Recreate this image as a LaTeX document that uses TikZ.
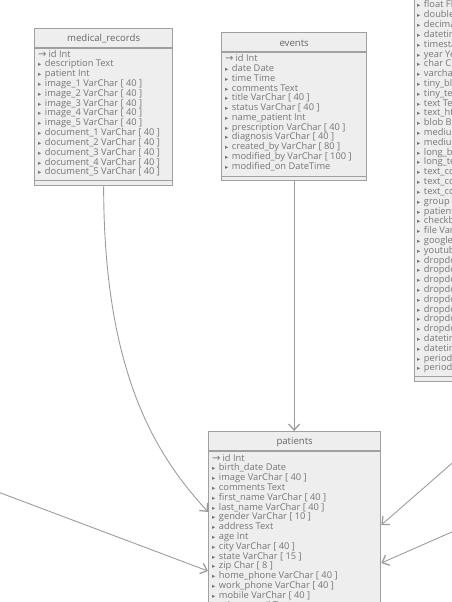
\documentclass[tikz,border=0pt]{standalone}
\usepackage{fontspec}
\setmainfont{Open Sans}
\newfontfamily\symf{DejaVu Sans}
\usetikzlibrary{arrows.meta,calc}
\definecolor{boxfill}{HTML}{EEEEEE}
\definecolor{boxline}{HTML}{A0A0A0}
\definecolor{rowtext}{HTML}{767676}
\definecolor{titletext}{HTML}{666666}
\definecolor{linkcol}{HTML}{9C9C9C}
\newcommand\pkmark{{\symf\fontsize{10}{8}\selectfont →}\hspace{2pt}}
\newcommand\fkmark{{\symf\fontsize{6.5}{6}\selectfont ▸}\hspace{3.5pt}}
\tikzset{
 tbl/.style={draw=boxline, fill=boxfill, line width=1.3pt, anchor=north west, inner sep=0pt},
 sepline/.style={draw=boxline, line width=1.3pt},
 ttl/.style={font=\fontsize{9.6}{9.6}\selectfont, text=titletext, inner sep=0pt},
 rowtxt/.style={font=\fontsize{9.3}{9.8}\selectfont, text=rowtext, anchor=base west, inner sep=0pt},
 link/.style={draw=linkcol, line width=0.9pt, -{Straight Barb[length=6pt,width=11pt,line width=1.3pt]}},
}
\begin{document}
\begin{tikzpicture}[x=1pt,y=-1pt]
\useasboundingbox (0,0) rectangle (452,602);
\clip (0,0) rectangle (452,602);

% ---------- medical_records ----------
\node[tbl, minimum width=138pt, minimum height=157pt] (mr) at (34,28) {};
\node[ttl] (mr-title) at ($(mr.north)+(0,10.5)$) {medical\_records};
\draw[sepline] ($(mr.north west)+(0,20)$) -- ($(mr.north east)+(0,20)$);
\draw[sepline] ($(mr.south west)+(0,-6)$) -- ($(mr.south east)+(0,-6)$);
\foreach \t [count=\i from 0] in {{id Int},{description Text},{patient Int},
  {image\_1 VarChar [ 40 ]},{image\_2 VarChar [ 40 ]},{image\_3 VarChar [ 40 ]},
  {image\_4 VarChar [ 40 ]},{image\_5 VarChar [ 40 ]},
  {document\_1 VarChar [ 40 ]},{document\_2 VarChar [ 40 ]},{document\_3 VarChar [ 40 ]},
  {document\_4 VarChar [ 40 ]},{document\_5 VarChar [ 40 ]}}
  \node[rowtxt] (mr-r\i) at (38,57+\i*9.83) {\ifnum\i=0 \pkmark\else\fkmark\fi\t};

% ---------- events ----------
\node[tbl, minimum width=145pt, minimum height=148pt] (ev) at (221,32) {};
\node[ttl] (ev-title) at ($(ev.north)+(0,11)$) {events};
\draw[sepline] ($(ev.north west)+(0,20)$) -- ($(ev.north east)+(0,20)$);
\draw[sepline] ($(ev.south west)+(0,-5)$) -- ($(ev.south east)+(0,-5)$);
\foreach \t [count=\i from 0] in {{id Int},{date Date},{time Time},{comments Text},
  {title VarChar [ 40 ]},{status VarChar [ 40 ]},{name\_patient Int},
  {prescription VarChar [ 40 ]},{diagnosis VarChar [ 40 ]},{created\_by VarChar [ 80 ]},
  {modified\_by VarChar [ 100 ]},{modified\_on DateTime}}
  \node[rowtxt] (ev-r\i) at (225,62+\i*9.73) {\ifnum\i=0 \pkmark\else\fkmark\fi\t};

% ---------- patients ----------
\node[tbl, minimum width=172pt, minimum height=220pt] (pt) at (208,431) {};
\node[ttl] (pt-title) at ($(pt.north)+(0,11)$) {patients};
\draw[sepline] ($(pt.north west)+(0,20)$) -- ($(pt.north east)+(0,20)$);
\foreach \t [count=\i from 0] in {{id Int},{birth\_date Date},{image VarChar [ 40 ]},
  {comments Text},{first\_name VarChar [ 40 ]},{last\_name VarChar [ 40 ]},
  {gender VarChar [ 10 ]},{address Text},{age Int},{city VarChar [ 40 ]},
  {state VarChar [ 15 ]},{zip Char [ 8 ]},{home\_phone VarChar [ 40 ]},
  {work\_phone VarChar [ 40 ]},{mobile VarChar [ 40 ]},{other\_email Text}}
  \node[rowtxt] (pt-r\i) at (212,461+\i*9.8) {\ifnum\i=0 \pkmark\else\fkmark\fi\t};

% ---------- right table (partly visible) ----------
\node[tbl, minimum width=120pt, minimum height=401pt] (rt) at (414,-20) {};
\draw[sepline] ($(rt.south west)+(0,-6)$) -- ($(rt.south east)+(0,-6)$);
\foreach \t [count=\i from 0] in {{float Float},{double Double},{decimal Decimal},
  {datetime DateTime},{timestamp TimeStamp},{year Year},{char Char [ 1 ]},
  {varchar VarChar [ 40 ]},{tiny\_blob TinyBlob},{tiny\_text TinyText},{text Text},
  {text\_html Text},{blob Blob},{medium\_blob MediumBlob},{medium\_text MediumText},
  {long\_blob LongBlob},{long\_text LongText},{text\_code\_1 Text},{text\_code\_2 Text},
  {text\_code\_3 Text},{group Int},{patient Int},{checkbox Bool},{file VarChar [ 40 ]},
  {google\_map Text},{youtube Text},{dropdown\_1 Int},{dropdown\_2 Int},{dropdown\_3 Int},
  {dropdown\_4 Int},{dropdown\_5 Int},{dropdown\_6 Int},{dropdown\_7 Int},{dropdown\_8 Int},
  {datetime\_1 DateTime},{datetime\_2 DateTime},{period\_1 Text},{period\_2 Text}}
  \node[rowtxt] (rt-r\i) at (417,8+\i*9.81) {\fkmark\t};

% ---------- connectors ----------
\coordinate (lsrc) at (-10,489);
\coordinate (rsrc1) at (470,447.5);
\coordinate (rsrc2) at (470,524);
\draw[link] (mr.south) .. controls +(0,195) and +(-47,-52) .. ($(pt.north west)+(0,81)$);
\draw[link] (ev.south) -- (ev.south |- pt.north);
\draw[link] (lsrc) -- ($(pt.north west)+(0,140)$);
\draw[link] (rsrc1) -- ($(pt.north east)+(0,94)$);
\draw[link] (rsrc2) -- ($(pt.north east)+(0,132)$);
\end{tikzpicture}
\end{document}
